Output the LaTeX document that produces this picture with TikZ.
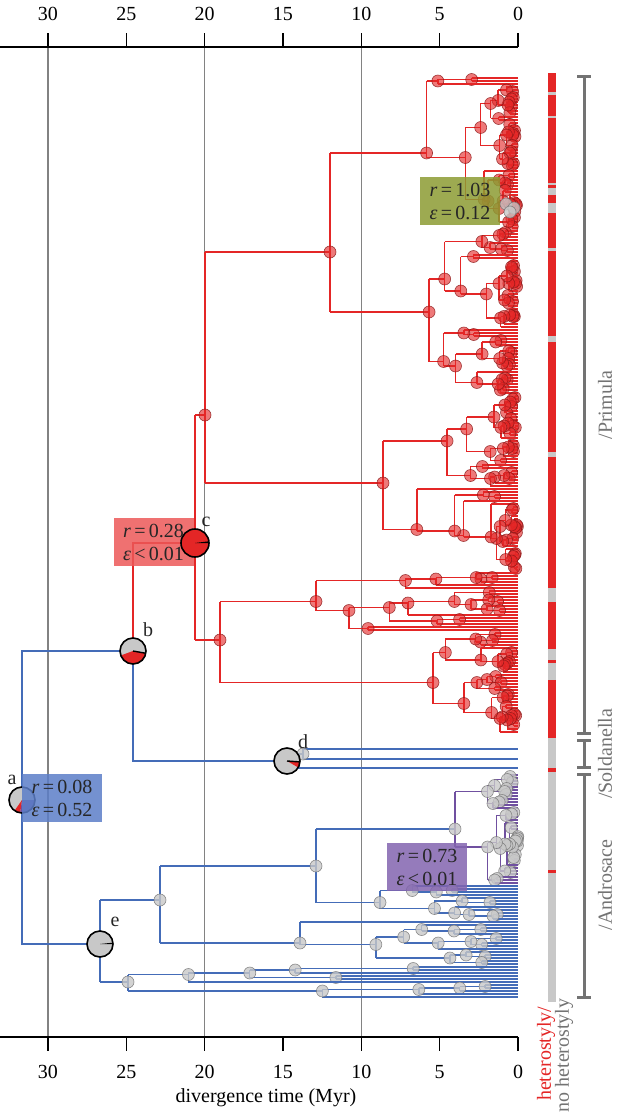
\documentclass[tikz,border=0pt]{standalone}
\usepackage{fontspec}
\setmainfont{Liberation Serif}
\usetikzlibrary{calc}

\definecolor{treered}{RGB}{228,38,38}
\definecolor{treeblue}{RGB}{68,108,184}
\definecolor{treepurple}{RGB}{112,80,160}
\definecolor{piegray}{RGB}{200,200,200}
\definecolor{linegray}{RGB}{130,130,130}
\definecolor{bracketgray}{RGB}{115,115,115}
\definecolor{olivebox}{RGB}{140,155,50}
\definecolor{redbox}{RGB}{236,88,88}
\definecolor{bluebox}{RGB}{92,126,200}
\definecolor{purplebox}{RGB}{130,100,175}

% tips all end at time 0
\newcommand\tipx{518}
\newcommand\tipsep{3}

% random clade below a parent at x=#1, tips from y=#2 to y=#3
\newcommand\subtree[3]{%
  \begingroup
  \edef\xp{#1}\edef\yt{#2}\edef\yb{#3}%
  \pgfmathsetmacro\xn{\xp+(\tipx-\xp)*(0.1+0.45*rnd)}%
  \pgfmathsetmacro\yn{(\yt+\yb)/2}%
  \edef\stnext{\noexpand\cladenode{\xp}{\yt}{\yb}{\xn}{\yn}}\stnext
  \endgroup}

% clade with its root node at (#4,#5)
\newcommand\cladenode[5]{%
  \begingroup
  \edef\xp{#1}\edef\yt{#2}\edef\yb{#3}\edef\xn{#4}\edef\yn{#5}%
  \pgfmathtruncatemacro\ntips{round((\yb-\yt)/\tipsep)+1}%
  \ifnum\ntips<2
    \draw[branch] (\xp,\yn) -- (\tipx,\yn);%
  \else
    \pgfmathtruncatemacro\nup{min(\ntips-1,1+floor(rnd*(\ntips-1)))}%
    \pgfmathsetmacro\ua{\yt+(\nup-1)*\tipsep}%
    \pgfmathsetmacro\lb{\yt+\nup*\tipsep}%
    \pgfmathsetmacro\va{min((\yt+\ua)/2,\yn)}%
    \pgfmathsetmacro\vb{max((\lb+\yb)/2,\yn)}%
    \draw[branch] (\xp,\yn) -- (\xn,\yn) (\xn,\va) -- (\xn,\vb);%
    \subtree{\xn}{\yt}{\ua}%
    \subtree{\xn}{\lb}{\yb}%
    \node[nodedot] at (\xn,\yn) {};%
  \fi
  \endgroup}

\newcommand\pieslice[5]{%
  \fill[#5] (#1) -- ++(#2:#4) arc[start angle=#2, end angle=#3, radius=#4] -- cycle;}

\begin{document}
\begin{tikzpicture}[x=1pt,y=-1pt,
  every node/.style={font=\fontsize{20}{23}\selectfont},
  redbr/.style={draw=treered,line width=1.4pt},
  bluebr/.style={draw=treeblue,line width=1.4pt},
  purplebr/.style={draw=treepurple,line width=1.4pt},
  dotbase/.style={circle,inner sep=0pt,minimum size=12pt,line width=0.6pt,draw opacity=0.8},
  reddot/.style={dotbase,fill=treered,fill opacity=0.62,draw=treered!60!black},
  graydot/.style={dotbase,fill=piegray,fill opacity=0.8,draw=black!55},
  branch/.style={redbr}, nodedot/.style={reddot},
  timeline/.style={draw=linegray,line width=1.3pt},
  axisline/.style={line width=1.4pt},
  bracket/.style={draw=bracketgray,line width=3pt},
  cladelabel/.style={text=bracketgray,rotate=90},
  ratebox/.style={minimum width=80pt,minimum height=48pt,inner sep=0pt,align=center,
    fill opacity=0.85,text opacity=1,text=black!85},
  pieedge/.style={line width=1.6pt},
  leaflabel/.style={text=black!85}]
\useasboundingbox (0,0) rectangle (617,1113);
\pgfmathsetseed{5}

% time grid and axes
\foreach \t in {10,20,30}
  \draw[timeline] ({518-\t*15.667},47) -- ({518-\t*15.667},1037);
\draw[axisline] (0,47) -- (518,47);
\draw[axisline] (0,1037) -- (518,1037);
\foreach \t in {0,5,...,30} {
  \draw[axisline] ({518-\t*15.667},47) -- ++(0,-14);
  \draw[axisline] ({518-\t*15.667},1037) -- ++(0,14);
  \node (top\t) at ({518-\t*15.667},14) {\t};
  \node (bot\t) at ({518-\t*15.667},1072) {\t};
}
\node (xlab) at (266,1098) {divergence time (Myr)};

% backbone
\coordinate (a) at (22,800);
\coordinate (b) at (133,651);
\coordinate (c) at (195,543);
\coordinate (d) at (287,761);
\coordinate (e) at (100,944);
\coordinate (p1) at (205,415);
\coordinate (p2) at (220,640);
\coordinate (q1) at (160,900);
\coordinate (q2) at (316,866);
\draw[bluebr] (b) -- (a |- b) -- (a |- e) -- (e);
\draw[redbr] (b) -- (b |- c) -- (c);
\draw[bluebr] (b) -- (b |- d) -- (d);
\draw[redbr] (c |- p1) -- (c |- p2) (c |- p1) -- (p1) (c |- p2) -- (p2);

% Primula
\draw[redbr] (205,252) -- (205,483);
\cladenode{205}{78}{393}{330}{252}
\cladenode{205}{396}{570}{383}{483}
\draw[redbr] (220,601.5) -- (220,682.5);
\cladenode{220}{573}{630}{316}{601.5}
\cladenode{220}{633}{732}{433}{682.5}
\node[reddot] (n1) at (p1) {};
\node[reddot] (n2) at (p2) {};
\node[graydot] (g1) at (506,204) {};
\node[graydot] (g2) at (514,208) {};
\node[graydot] (g3) at (510,212) {};

% Soldanella
\draw[bluebr] (287,754) -- (287,768) (287,754) -- (303,754)
  (303,749) -- (303,759) (303,749) -- (518,749) (303,759) -- (518,759)
  (287,768) -- (518,768);
\node[graydot] (s1) at (303,754) {};

% Androsace
\begin{scope}[branch/.style={bluebr},nodedot/.style={graydot}]
\draw[bluebr] (100,900) -- (100,982) (100,900) -- (q1)
  (160,866) -- (160,943) (160,866) -- (q2)
  (316,829) -- (316,902.5) (316,829) -- (455,829);
\begin{scope}[branch/.style={purplebr}]
\cladenode{455}{775}{883}{455}{829}
\end{scope}
\cladenode{316}{886}{919}{380}{902.5}
\cladenode{160}{922}{964}{300}{943}
\cladenode{100}{967}{997}{128}{982}
\node[graydot] (n3) at (q1) {};
\node[graydot] (n4) at (q2) {};
\end{scope}

% tip states
\fill[piegray] (548,73) rectangle (556,1002);
\foreach \ya/\yb in {73/92,95/116,118/183,185/188,195/203,213/248,251/336,
    342/452,457/588,602/649,660/663,680/738,768/772,870/873}
  \fill[treered] (548,\ya) rectangle (556,\yb);
\node[rotate=90,anchor=east,text=treered] (het) at (546,1003) {heterostyly/};
\node[rotate=90,anchor=east,text=bracketgray] (nohet) at (564,995) {no heterostyly};

% clades
\draw[bracket] (584,77) -- (584,733) (577,77) -- (591,77) (577,733) -- (591,733);
\draw[bracket] (584,740) -- (584,767) (577,740) -- (591,740) (577,767) -- (591,767);
\draw[bracket] (584,774) -- (584,997) (577,774) -- (591,774) (577,997) -- (591,997);
\node[cladelabel] (lprim) at (605,405) {/Primula};
\node[cladelabel] (lsold) at (605,754) {/Soldanella};
\node[cladelabel] (landr) at (605,885) {/Androsace};

% ancestral states
\fill[piegray] (a) circle[radius=13pt];
\pieslice{a}{235}{262}{13pt}{treered}
\pieslice{a}{262}{360}{13pt}{treepurple}
\draw[pieedge] (a) circle[radius=13pt];

\node[ratebox,fill=olivebox] (rate1) at (460,201) {\textit{r}\,=\,1.03\\\textit{ε}\,=\,0.12};
\node[ratebox,fill=redbox] (rate2) at (153.5,542) {\textit{r}\,=\,0.28\\\textit{ε}\,<\,0.01};
\node[ratebox,fill=bluebox] (rate3) at (62,798) {\textit{r}\,=\,0.08\\\textit{ε}\,=\,0.52};
\node[ratebox,fill=purplebox] (rate4) at (427,867) {\textit{r}\,=\,0.73\\\textit{ε}\,<\,0.01};

\fill[piegray] (b) circle[radius=13pt];
\pieslice{b}{200}{350}{13pt}{treered}
\draw[line width=1.4pt] (b) -- ++(350:13pt);
\draw[pieedge] (b) circle[radius=13pt];

\fill[treered] (c) circle[radius=14pt];
\pieslice{c}{0}{7}{14pt}{black}
\draw[pieedge] (c) circle[radius=14pt];

\fill[piegray] (d) circle[radius=13pt];
\pieslice{d}{330}{355}{13pt}{treered}
\draw[line width=1.4pt] (d) -- ++(356:13pt);
\draw[pieedge] (d) circle[radius=13pt];

\fill[piegray] (e) circle[radius=13pt];
\pieslice{e}{0}{6}{13pt}{black}
\draw[pieedge] (e) circle[radius=13pt];

\node[leaflabel] (la) at (12,780) {a};
\node[leaflabel] (lb) at (148,630) {b};
\node[leaflabel] (lc) at (206,522) {c};
\node[leaflabel] (ld) at (303,742) {d};
\node[leaflabel] (le) at (115,922) {e};
\end{tikzpicture}
\end{document}
